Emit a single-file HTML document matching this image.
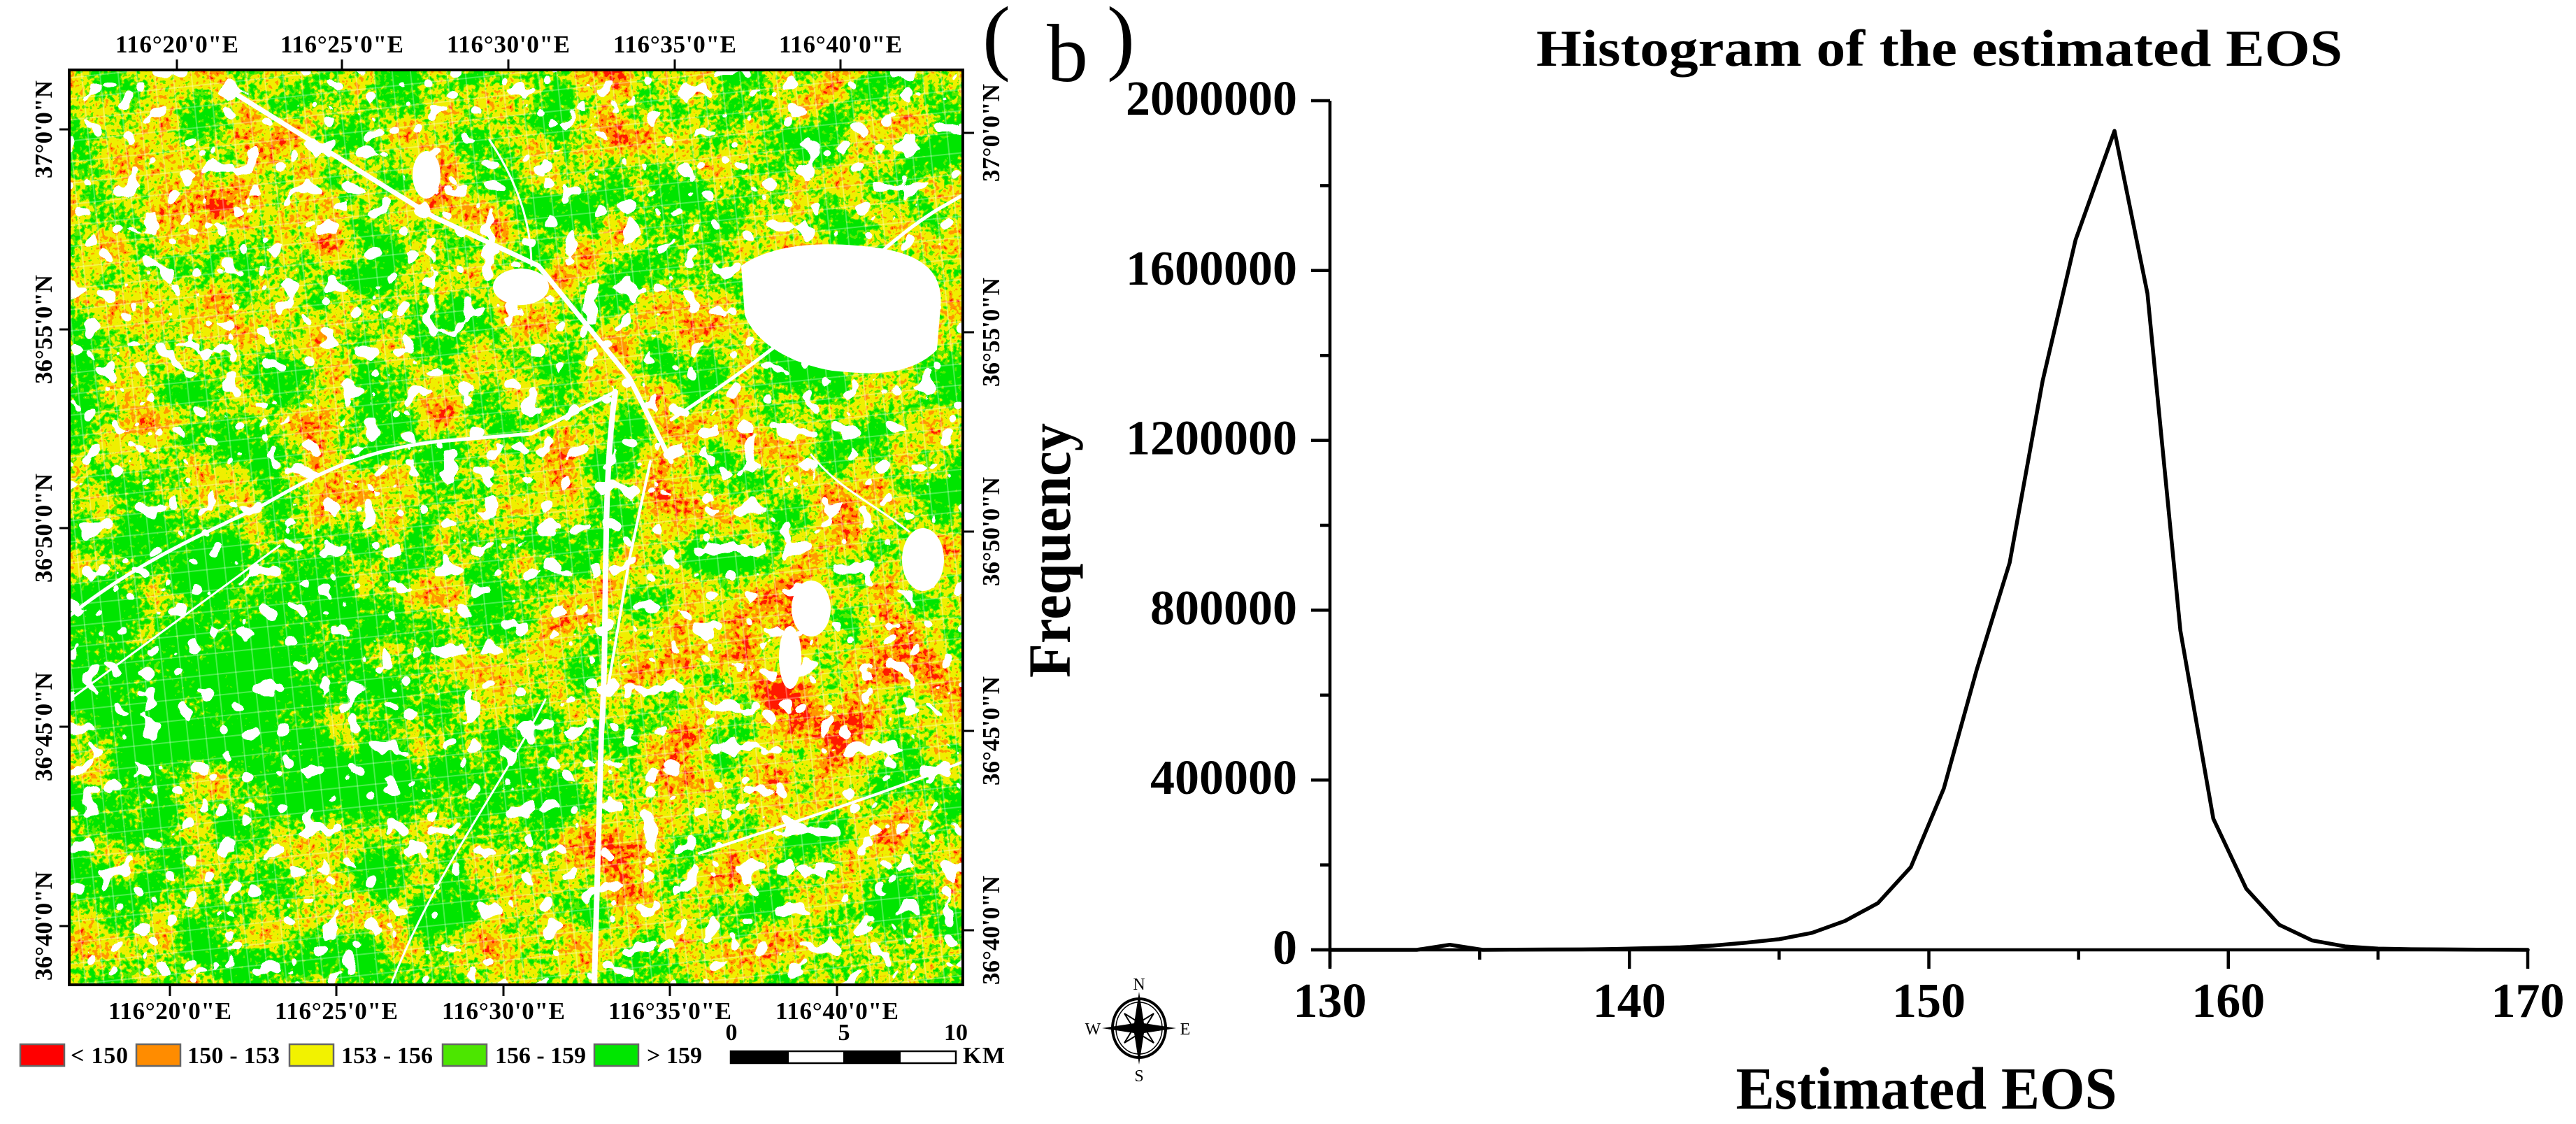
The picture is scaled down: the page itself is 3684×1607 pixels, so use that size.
<!DOCTYPE html>
<html><head><meta charset="utf-8"><title>EOS map and histogram</title>
<style>
html,body{margin:0;padding:0;background:#fff;}
svg{display:block;}
.sb{font-family:"Liberation Serif","Noto Serif CJK SC",serif;font-weight:bold;fill:#000;}
.sn{font-family:"Liberation Serif","Noto Serif CJK SC",serif;fill:#000;}
</style></head>
<body>
<svg id="root" xmlns="http://www.w3.org/2000/svg" width="3684" height="1607" viewBox="0 0 3684 1607">
<defs>
  <radialGradient id="gDark" cx="0.5" cy="0.5" r="0.5">
    <stop offset="0" stop-color="#000" stop-opacity="1"/>
    <stop offset="1" stop-color="#000" stop-opacity="0"/>
  </radialGradient>
  <radialGradient id="gBright" cx="0.5" cy="0.5" r="0.5">
    <stop offset="0" stop-color="#fff" stop-opacity="0.9"/>
    <stop offset="1" stop-color="#fff" stop-opacity="0"/>
  </radialGradient>
  <pattern id="fieldGrid" patternUnits="userSpaceOnUse" width="26" height="30" patternTransform="rotate(-6)">
    <rect x="0" y="0" width="2" height="30" fill="#fff" opacity="0.3"/>
    <rect x="0" y="0" width="26" height="2" fill="#fff" opacity="0.3"/>
  </pattern>
  <filter id="mapf" filterUnits="userSpaceOnUse" x="100" y="101" width="1275" height="1305" color-interpolation-filters="sRGB">
    <feTurbulence type="fractalNoise" baseFrequency="0.012" numOctaves="3" seed="7" result="lo0"/>
    <feColorMatrix in="lo0" type="matrix" values="1 0 0 0 0  0 1 0 0 0  0 0 1 0 0  0 0 0 0 1" result="lo"/>
    <feTurbulence type="fractalNoise" baseFrequency="0.14" numOctaves="2" seed="2" result="hi0"/>
    <feColorMatrix in="hi0" type="matrix" values="1 0 0 0 0  0 1 0 0 0  0 0 1 0 0  0 0 0 0 1" result="hi"/>
    <feComposite in="lo" in2="hi" operator="arithmetic" k2="0.6" k3="0.4" result="mix"/>
    <feComposite in="mix" in2="SourceGraphic" operator="arithmetic" k2="1" k3="0.4" k4="-0.2" result="biased"/>
    <feColorMatrix in="biased" type="matrix" values="1.8 0 0 0 -0.4  1.8 0 0 0 -0.4  1.8 0 0 0 -0.4  0 0 0 0 1" result="gray"/>
    <feComponentTransfer in="gray" result="col">
      <feFuncR type="discrete" tableValues="0 0 0 0 0 0 0 0 0.35 0.35 0.94 0.94 0.94 0.94 1 1 1 1 1 1"/>
      <feFuncG type="discrete" tableValues="0.9 0.9 0.9 0.9 0.9 0.9 0.9 0.9 0.92 0.92 0.94 0.94 0.94 0.94 0.6 0.6 0.6 0.1 0.1 0.1"/>
      <feFuncB type="discrete" tableValues="0 0 0 0 0 0 0 0 0 0 0 0 0 0 0 0 0 0 0 0"/>
      <feFuncA type="linear" slope="0" intercept="1"/>
    </feComponentTransfer>
    <feTurbulence type="fractalNoise" baseFrequency="0.035" numOctaves="2" seed="11" result="w0"/>
    <feColorMatrix in="w0" type="matrix" values="0 0 0 0 1  0 0 0 0 1  0 0 0 0 1  1 0 0 0 0" result="wa"/>
    <feComponentTransfer in="wa" result="wm">
      <feFuncA type="discrete" tableValues="0 0 0 0 0 0 0 0 0 0 0 0 0 1 1 1 1 1 1 1"/>
    </feComponentTransfer>
    <feMerge><feMergeNode in="col"/><feMergeNode in="wm"/></feMerge>
  </filter>
  <clipPath id="mapClip"><rect x="100" y="101" width="1275" height="1305"/></clipPath>
</defs>

<!-- ================= MAP ================= -->
<g>
  <g clip-path="url(#mapClip)">
    <g filter="url(#mapf)">
      <rect x="100" y="101" width="1275" height="1305" fill="#808080"/>
      <ellipse cx="300" cy="1000" rx="380" ry="330" fill="url(#gDark)"/>
      <ellipse cx="700" cy="1150" rx="250" ry="200" fill="url(#gDark)" opacity="0.4"/>
      <ellipse cx="1150" cy="950" rx="330" ry="260" fill="url(#gBright)" opacity="0.7"/>
      <ellipse cx="250" cy="300" rx="260" ry="200" fill="url(#gBright)" opacity="0.5"/>
      <ellipse cx="900" cy="1250" rx="300" ry="150" fill="url(#gBright)" opacity="0.5"/>
    </g>
    <rect x="100" y="101" width="1275" height="1305" fill="url(#fieldGrid)"/>
    <g fill="#fff">
      <path d="M1060 380 C1110 345 1190 345 1260 355 C1320 365 1350 390 1345 440 L1340 500 C1300 540 1240 535 1190 530 C1130 520 1080 490 1065 450 Z"/>
      <ellipse cx="745" cy="410" rx="40" ry="26"/>
      <ellipse cx="610" cy="250" rx="20" ry="34"/>
      <ellipse cx="1160" cy="870" rx="28" ry="40"/>
      <ellipse cx="1320" cy="800" rx="30" ry="45"/>
      <ellipse cx="1130" cy="940" rx="16" ry="45"/>
    </g>
    <g stroke="#fff" fill="none" stroke-linecap="round">
      <path d="M330 130 L620 310 L770 380 L900 540 L960 660" stroke-width="7"/>
      <path d="M880 560 C860 700 870 900 860 1050 L850 1406" stroke-width="8"/>
      <path d="M100 880 C200 800 300 760 380 720 C450 680 520 640 640 630 L760 620 L880 560" stroke-width="5"/>
      <path d="M960 600 C1020 560 1080 520 1140 470 C1200 420 1260 350 1340 300 L1375 280" stroke-width="5"/>
      <path d="M930 660 L900 800 L870 980" stroke-width="4"/>
      <path d="M100 1000 L400 780" stroke-width="3"/>
      <path d="M560 1406 C620 1250 720 1120 780 1000" stroke-width="3"/>
      <path d="M1000 1220 C1120 1180 1250 1140 1375 1090" stroke-width="4"/>
      <path d="M700 200 C740 260 760 320 760 380" stroke-width="3"/>
      <path d="M1160 650 C1200 700 1250 720 1300 760" stroke-width="3"/>
    </g>
  </g>
  <rect x="99" y="100" width="1278" height="1308" fill="none" stroke="#000" stroke-width="4"/>
  <g stroke="#000" stroke-width="3">
    <line x1="253" y1="100" x2="253" y2="85"/><line x1="489" y1="100" x2="489" y2="85"/><line x1="727" y1="100" x2="727" y2="85"/><line x1="965" y1="100" x2="965" y2="85"/><line x1="1202" y1="100" x2="1202" y2="85"/>
    <line x1="243" y1="1408" x2="243" y2="1424"/><line x1="481" y1="1408" x2="481" y2="1424"/><line x1="720" y1="1408" x2="720" y2="1424"/><line x1="958" y1="1408" x2="958" y2="1424"/><line x1="1197" y1="1408" x2="1197" y2="1424"/>
    <line x1="99" y1="185" x2="85" y2="185"/><line x1="99" y1="471" x2="85" y2="471"/><line x1="99" y1="755" x2="85" y2="755"/><line x1="99" y1="1039" x2="85" y2="1039"/><line x1="99" y1="1324" x2="85" y2="1324"/>
    <line x1="1377" y1="190" x2="1393" y2="190"/><line x1="1377" y1="475" x2="1393" y2="475"/><line x1="1377" y1="760" x2="1393" y2="760"/><line x1="1377" y1="1045" x2="1393" y2="1045"/><line x1="1377" y1="1330" x2="1393" y2="1330"/>
  </g>
  <g class="sb" font-size="35" text-anchor="middle">
    <text x="253" y="75" textLength="176">116°20'0"E</text>
    <text x="489" y="75" textLength="176">116°25'0"E</text>
    <text x="727" y="75" textLength="176">116°30'0"E</text>
    <text x="965" y="75" textLength="176">116°35'0"E</text>
    <text x="1202" y="75" textLength="176">116°40'0"E</text>
    <text x="243" y="1457" textLength="176">116°20'0"E</text>
    <text x="481" y="1457" textLength="176">116°25'0"E</text>
    <text x="720" y="1457" textLength="176">116°30'0"E</text>
    <text x="958" y="1457" textLength="176">116°35'0"E</text>
    <text x="1197" y="1457" textLength="176">116°40'0"E</text>
    <text transform="translate(74,185) rotate(-90)" textLength="140">37°0'0"N</text>
    <text transform="translate(74,471) rotate(-90)" textLength="156">36°55'0"N</text>
    <text transform="translate(74,755) rotate(-90)" textLength="156">36°50'0"N</text>
    <text transform="translate(74,1039) rotate(-90)" textLength="156">36°45'0"N</text>
    <text transform="translate(74,1324) rotate(-90)" textLength="156">36°40'0"N</text>
    <text transform="translate(1429,190) rotate(-90)" textLength="140">37°0'0"N</text>
    <text transform="translate(1429,475) rotate(-90)" textLength="156">36°55'0"N</text>
    <text transform="translate(1429,760) rotate(-90)" textLength="156">36°50'0"N</text>
    <text transform="translate(1429,1045) rotate(-90)" textLength="156">36°45'0"N</text>
    <text transform="translate(1429,1330) rotate(-90)" textLength="156">36°40'0"N</text>
  </g>
  <!-- legend -->
  <g>
    <g stroke="#666" stroke-width="2.5">
      <rect x="29" y="1493" width="63" height="31" fill="#ff0000"/>
      <rect x="195" y="1493" width="63" height="31" fill="#ff8c00"/>
      <rect x="414" y="1493" width="63" height="31" fill="#f2f200"/>
      <rect x="633" y="1493" width="63" height="31" fill="#4ce600"/>
      <rect x="850" y="1493" width="63" height="31" fill="#00e600"/>
    </g>
    <g class="sb" font-size="34">
      <text x="101" y="1520" textLength="82">&lt; 150</text>
      <text x="268" y="1520" textLength="132">150 - 153</text>
      <text x="488" y="1520" textLength="131">153 - 156</text>
      <text x="708" y="1520" textLength="130">156 - 159</text>
      <text x="925" y="1520" textLength="79">&gt; 159</text>
    </g>
  </g>
  <!-- scale bar -->
  <g>
    <rect x="1045" y="1503" width="322" height="17" fill="#fff" stroke="#000" stroke-width="2.5"/>
    <rect x="1045" y="1503" width="83" height="17" fill="#000"/>
    <rect x="1206" y="1503" width="82" height="17" fill="#000"/>
    <g class="sb" font-size="34" text-anchor="middle">
      <text x="1046" y="1487">0</text>
      <text x="1207" y="1487">5</text>
      <text x="1367" y="1487">10</text>
    </g>
    <text class="sb" x="1377" y="1520" font-size="34" textLength="60">KM</text>
  </g>
</g>

<!-- compass -->
<g>
  <ellipse cx="1629" cy="1470" rx="38" ry="42" fill="none" stroke="#000" stroke-width="4"/>
  <ellipse cx="1629" cy="1470" rx="33" ry="37" fill="none" stroke="#000" stroke-width="1.5"/>
  <polygon points="1650,1449 1637,1470 1650,1491 1629,1478 1608,1491 1621,1470 1608,1449 1629,1462" fill="#fff" stroke="#000" stroke-width="2"/>
  <polygon points="1629,1418 1636,1463 1682,1470 1636,1477 1629,1522 1622,1477 1576,1470 1622,1463" fill="#000"/>
  <g class="sn" font-size="24" text-anchor="middle">
    <text x="1629" y="1415">N</text>
    <text x="1629" y="1546">S</text>
    <text x="1563" y="1479">W</text>
    <text x="1695" y="1479">E</text>
  </g>
</g>

<!-- ================= HISTOGRAM ================= -->
<g>
  <text class="sn" x="1405" y="92" font-size="120">(</text>
  <text class="sn" x="1497" y="116" font-size="118">b</text>
  <text class="sn" x="1583" y="92" font-size="120">)</text>
</g>
<text class="sb" x="2197" y="94" font-size="74" textLength="1153" lengthAdjust="spacingAndGlyphs">Histogram of the estimated EOS</text>
<text class="sb" transform="translate(1530,787) rotate(-90)" text-anchor="middle" font-size="86" textLength="364" lengthAdjust="spacingAndGlyphs">Frequency</text>
<text class="sb" x="2755" y="1585" text-anchor="middle" font-size="86" textLength="545" lengthAdjust="spacingAndGlyphs">Estimated EOS</text>
<g id="chart"></g>
</svg>

<script>
const eosValues = [130,132.9,134.0,135.1,136.2,137.3,138.4,139.5,140.6,141.7,142.8,143.9,145.0,146.1,147.2,148.3,149.4,150.5,151.6,152.7,153.8,154.9,156.2,157.3,158.4,159.5,160.6,161.7,162.8,163.9,165.0,166.1,167.2,168.3,169.4,170];
const frequencies = [0,0,12000,0,500,800,1000,2000,4000,6000,10000,17000,25000,40000,68000,110000,195000,380000,660000,912000,1340000,1672000,1929000,1546000,752000,309000,144000,59000,22000,8000,3000,1500,1000,500,200,0];
const xTickValues = [130,140,150,160,170];
const xMinorValues = [135,145,155,165];
const yTickValues = [0,400000,800000,1200000,1600000,2000000];
const yMinorValues = [200000,600000,1000000,1400000,1800000];

const NS = "http://www.w3.org/2000/svg";
const X0 = 1902, X1 = 3615, Y0 = 1358, Y1 = 144;
const xMin = 130, xMax = 170, yMin = 0, yMax = 2000000;
function xScale(v){ return X0 + (v - xMin) / (xMax - xMin) * (X1 - X0); }
function yScale(v){ return Y0 - (v - yMin) / (yMax - yMin) * (Y0 - Y1); }
function mk(tag, attrs){ const e = document.createElementNS(NS, tag); for (const k in attrs) e.setAttribute(k, attrs[k]); return e; }

const chart = document.getElementById('chart');

const yAxis = mk('line', {x1: X0, y1: Y1, x2: X0, y2: Y0 + 25, stroke: '#000', 'stroke-width': 4.5});


chart.appendChild(yAxis);
const xAxis = mk('line', {x1: X0 - 27, y1: Y0, x2: X1, y2: Y0, stroke: '#000', 'stroke-width': 4.5});


chart.appendChild(xAxis);

yTickValues.forEach(function(v){
  const y = yScale(v);
  const t = mk('line', {x1: X0 - 27, y1: y, x2: X0, y2: y, stroke: '#000', 'stroke-width': 4.5});
  
  
  chart.appendChild(t);
  const lab = mk('text', {x: 1855, y: y + 20, 'text-anchor': 'end', 'font-size': 70, class: 'sb'});
  lab.textContent = String(v);
  
  
  chart.appendChild(lab);
});
yMinorValues.forEach(function(v){
  const y = yScale(v);
  const t = mk('line', {x1: X0 - 14, y1: y, x2: X0, y2: y, stroke: '#000', 'stroke-width': 4.5});
  
  
  chart.appendChild(t);
});
xTickValues.forEach(function(v){
  const x = xScale(v);
  const t = mk('line', {x1: x, y1: Y0, x2: x, y2: Y0 + 27, stroke: '#000', 'stroke-width': 4.5});
  
  
  chart.appendChild(t);
  const lab = mk('text', {x: x, y: 1454, 'text-anchor': 'middle', 'font-size': 70, class: 'sb'});
  lab.textContent = String(v);
  
  
  chart.appendChild(lab);
});
xMinorValues.forEach(function(v){
  const x = xScale(v);
  const t = mk('line', {x1: x, y1: Y0, x2: x, y2: Y0 + 14, stroke: '#000', 'stroke-width': 4.5});
  
  
  chart.appendChild(t);
});

let d = '';
eosValues.forEach(function(v, i){
  d += (i === 0 ? 'M' : 'L') + xScale(v).toFixed(1) + ' ' + yScale(frequencies[i]).toFixed(1) + ' ';
});
const line = mk('path', {d: d, fill: 'none', stroke: '#000', 'stroke-width': 5.5, 'stroke-linejoin': 'round', 'stroke-linecap': 'round'});


chart.appendChild(line);
</script>
</body></html>
